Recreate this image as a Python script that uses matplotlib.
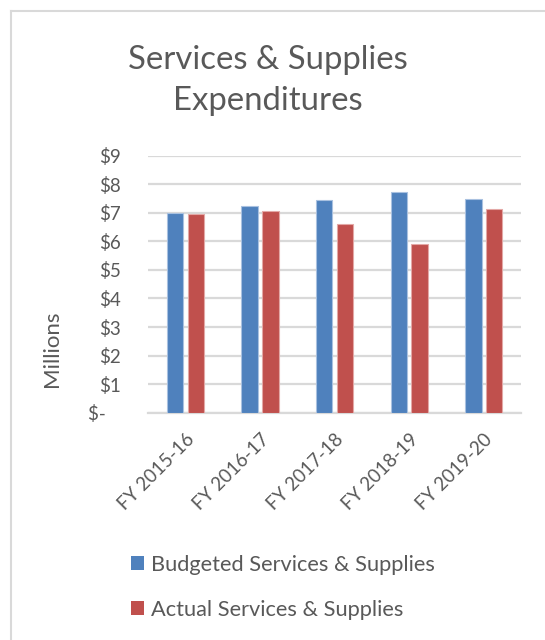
import matplotlib
matplotlib.use("Agg")
import matplotlib.pyplot as plt
import numpy as np
from matplotlib.lines import Line2D

categories = ["FY 2015-16", "FY 2016-17", "FY 2017-18", "FY 2018-19", "FY 2019-20"]
budgeted = [6.98, 7.25, 7.45, 7.72, 7.49]
actual = [6.96, 7.06, 6.62, 5.90, 7.12]
series_names = ["Budgeted Services & Supplies", "Actual Services & Supplies"]
y_ticks = [0, 1, 2, 3, 4, 5, 6, 7, 8, 9]
y_tick_labels = ["$-   ", "$1", "$2", "$3", "$4", "$5", "$6", "$7", "$8", "$9"]
title = "Services & Supplies\nExpenditures"
y_label = "Millions"

BLUE = "#4F81BD"
RED = "#C0504D"
TXT = "#595959"
GRID = "#D9D9D9"

plt.rcParams['font.family'] = ['Lato', 'DejaVu Sans']

fig = plt.figure(figsize=(5.45, 6.4), dpi=100)
ax = fig.add_axes([0.272, 0.355, 0.684, 0.402])

x = np.arange(len(categories))
w = 0.22
off = 0.14
ax.bar(x - off, budgeted, width=w, color=BLUE, edgecolor="#A9C1E0", linewidth=0.8, zorder=3, label=series_names[0])
ax.bar(x + off, actual, width=w, color=RED, edgecolor="#E3A8A6", linewidth=0.8, zorder=3, label=series_names[1])

ax.set_xlim(-0.5, len(categories) - 0.5)
ax.set_ylim(0, 9)
ax.set_yticks(y_ticks)
ax.set_yticklabels(y_tick_labels)
ax.set_xticks(x)
ax.set_xticklabels(categories, rotation=45, ha="right", va="top", rotation_mode="anchor")

ax.grid(axis="y", color=GRID, linewidth=1.6, zorder=0)
for s in ["top", "right", "left"]:
    ax.spines[s].set_visible(False)
ax.spines["bottom"].set_color(GRID)
ax.spines["bottom"].set_linewidth(1.6)
ax.spines["bottom"].set_zorder(0)
ax.tick_params(axis="both", length=0, colors=TXT, labelsize=13.5)
ax.tick_params(axis="y", pad=20)
ax.tick_params(axis="x", pad=13)

fig.text(52/545, 1 - 349/640, y_label, rotation=90, ha="center", va="center", fontsize=16, color=TXT)

fig.text(0.491, 0.93, title, ha="center", va="top", fontsize=23.7, color=TXT, linespacing=1.45)

leg = fig.legend(loc="upper left", bbox_to_anchor=(0.24, 0.133), frameon=False,
                 fontsize=15.7, labelcolor=TXT, handlelength=0.62, handleheight=0.62,
                 handletextpad=0.3, labelspacing=1.15, borderaxespad=0, borderpad=0)
for h in leg.legend_handles:
    h.set_edgecolor("none")

# chart frame border
fig.add_artist(Line2D([11/545, 1.0], [1 - 11/640, 1 - 11/640], transform=fig.transFigure, color="#D9D9D9", linewidth=1.5))
fig.add_artist(Line2D([11/545, 11/545], [0.0, 1 - 11/640], transform=fig.transFigure, color="#D9D9D9", linewidth=1.5))

fig.savefig("out.png", dpi=100, facecolor="white")
